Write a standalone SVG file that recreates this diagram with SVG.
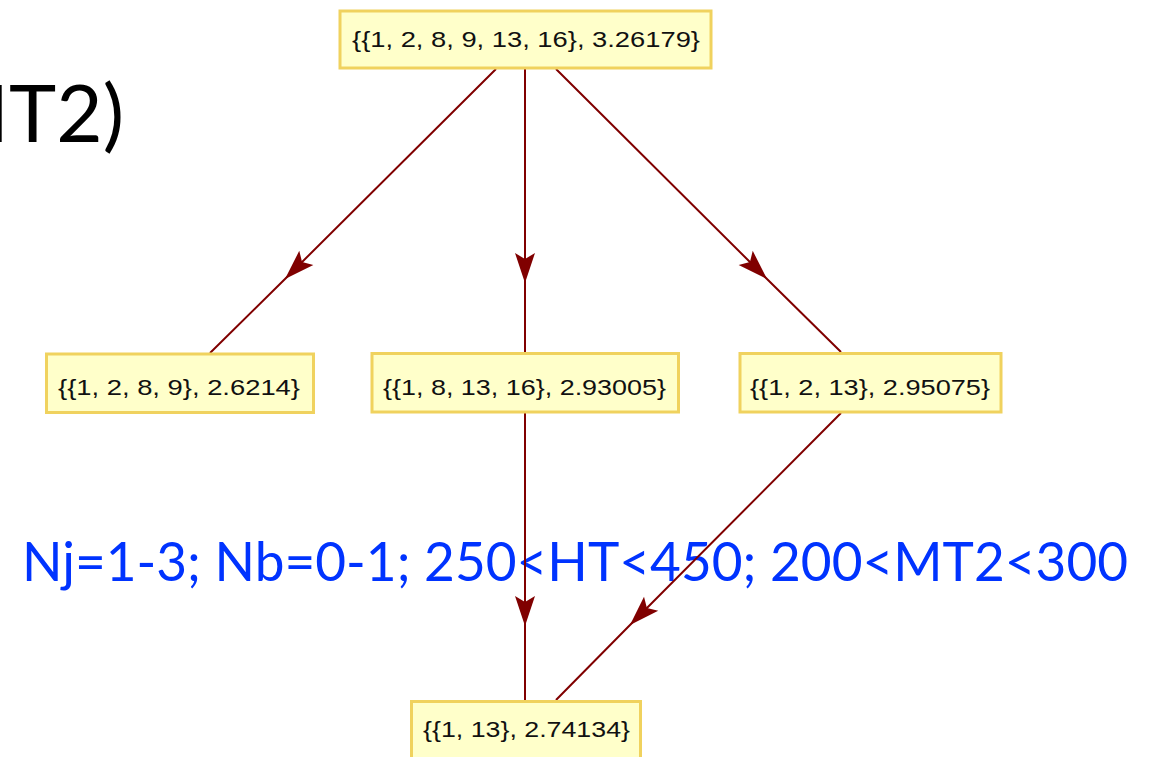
<svg xmlns="http://www.w3.org/2000/svg" width="1156" height="757" viewBox="0 0 1156 757">
  <style>
    .box { fill: #ffffca; stroke: #f0d25e; stroke-width: 3; }
    .lbl { font-family: "Liberation Sans", Arial, sans-serif; font-size: 22px; fill: #111; text-anchor: middle; }
    .edge { fill: none; stroke: #800000; stroke-width: 2; marker-mid: url(#head); }
    .cut { font-family: Lato, "Open Sans", sans-serif; font-size: 80px; fill: #000; text-anchor: end; }
    .cond { font-family: Lato, "Open Sans", sans-serif; font-size: 55px; fill: #0033ff; }
  </style>
  <defs>
    <marker id="head" markerUnits="userSpaceOnUse" markerWidth="40" markerHeight="26" viewBox="-32 -13 34 26" refX="0" refY="0" orient="auto">
      <path d="M0,0 L-30,-10 L-24,0 L-30,10 Z" fill="#800000"/>
    </marker>
  </defs>

  <!-- heading fragment and cut summary -->
  <text class="cut" x="124" y="142">MT2)</text>
  <text class="cond" x="22" y="581" textLength="1106" lengthAdjust="spacingAndGlyphs">Nj=1-3; Nb=0-1; 250&lt;HT&lt;450; 200&lt;MT2&lt;300</text>

  <!-- connectors: each path has a middle vertex where the arrowhead sits -->
  <g id="edges">
    <path class="edge" d="M496,69 L285,279 L210,353"/>
    <path class="edge" d="M525,69 L525,283 L525,352"/>
    <path class="edge" d="M556,69 L767,279 L841,352"/>
    <path class="edge" d="M525,413 L525,626 L525,700"/>
    <path class="edge" d="M841,413 L630,625 L556,700"/>
  </g>

  <g id="n-root">
    <rect class="box" x="340" y="11" width="371" height="57"/>
    <text class="lbl" x="526" y="47" textLength="348" lengthAdjust="spacingAndGlyphs">{{1, 2, 8, 9, 13, 16}, 3.26179}</text>
  </g>
  <g id="n-1289">
    <rect class="box" x="46.5" y="354" width="267" height="58.5"/>
    <text class="lbl" x="179" y="395" textLength="242" lengthAdjust="spacingAndGlyphs">{{1, 2, 8, 9}, 2.6214}</text>
  </g>
  <g id="n-181316">
    <rect class="box" x="372" y="353.5" width="306.5" height="58.5"/>
    <text class="lbl" x="524.5" y="395" textLength="283" lengthAdjust="spacingAndGlyphs">{{1, 8, 13, 16}, 2.93005}</text>
  </g>
  <g id="n-1213">
    <rect class="box" x="740" y="353.5" width="261" height="58.5"/>
    <text class="lbl" x="870" y="395" textLength="240" lengthAdjust="spacingAndGlyphs">{{1, 2, 13}, 2.95075}</text>
  </g>
  <g id="n-113">
    <rect class="box" x="411.5" y="701.5" width="229" height="58.5"/>
    <text class="lbl" x="526.5" y="737" textLength="207" lengthAdjust="spacingAndGlyphs">{{1, 13}, 2.74134}</text>
  </g>
</svg>
